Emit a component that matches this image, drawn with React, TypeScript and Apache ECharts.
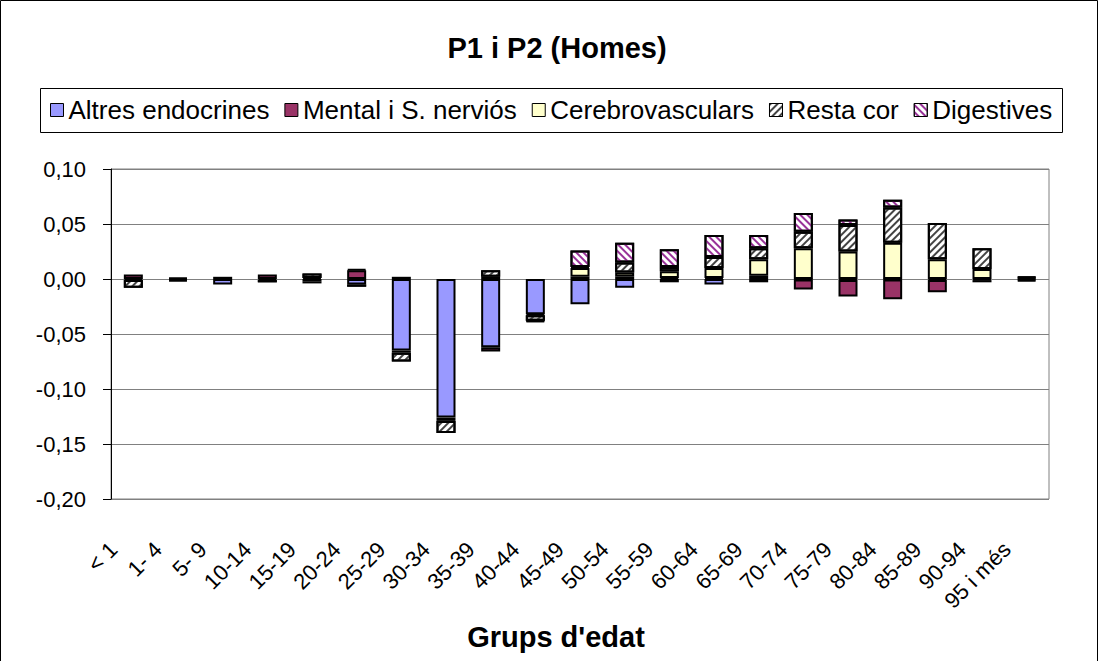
import React, { useEffect, useRef } from "react";
import * as echarts from "echarts";

const categories = ["< 1", "1- 4", "5- 9", "10-14", "15-19", "20-24", "25-29", "30-34", "35-39", "40-44", "45-49", "50-54", "55-59", "60-64", "65-69", "70-74", "75-79", "80-84", "85-89", "90-94", "95 i més"];

const altresEndocrines = [-0.001, -0.001, -0.005, -0.001, -0.002, -0.005, -0.065, -0.126, -0.062, -0.032, -0.023, -0.008, -0.003, -0.005, -0.003, -0.0005, -0.001, -0.0005, -0.001, -0.001, -0.001];
const mentalNervios = [0.004, -0.001, 0.002, 0.004, -0.002, 0.008, -0.002, -0.003, -0.004, -0.001, 0.002, 0.002, 0.001, 0.001, 0.003, -0.009, -0.015, -0.018, -0.011, -0.002, -0.001];
const cerebrovasculars = [0, 0, 0, 0, 0.001, 0.001, 0.002, 0, 0.002, 0, 0.008, 0.004, 0.006, 0.009, 0.015, 0.028, 0.025, 0.033, 0.018, 0.009, 0.001];
const restaCor = [-0.007, 0.001, 0, -0.002, 0.004, -0.002, -0.008, -0.011, 0.006, -0.005, 0.001, 0.009, 0.004, 0.010, 0.010, 0.015, 0.024, 0.032, 0.033, 0.019, 0.001];
const digestives = [0, 0, 0, 0, 0, 0, 0, 0, 0, -0.001, 0.015, 0.018, 0.016, 0.020, 0.012, 0.017, 0.005, 0.007, 0, 0, 0];

const yTicks = { min: -0.2, max: 0.1, interval: 0.05 };

const FONT = "'Liberation Sans', Arial, sans-serif";

export default function App() {
  const ref = useRef<HTMLDivElement>(null);
  useEffect(() => {
    if (!ref.current) return;
    const chart = echarts.init(ref.current, null, { renderer: "svg" });
    const clean = (arr: number[]) => arr.map((v) => (v === 0 ? null : v));
    const base = {
      type: "bar",
      stack: "total",
      barWidth: 19,
    };
    const border = { borderColor: "#000", borderWidth: 2 };
    chart.setOption({
      animation: false,
      backgroundColor: "#fff",
      textStyle: { fontFamily: FONT, color: "#000" },
      title: {
        text: "P1 i P2 (Homes)",
        left: 557,
        textAlign: "center",
        top: 33,
        padding: 0,
        textStyle: { fontFamily: FONT, fontSize: 29, fontWeight: "bold", color: "#000" },
      },
      legend: {
        left: 50,
        top: 97,
        padding: 0,
        itemGap: 15,
        itemWidth: 13,
        itemHeight: 13,
        icon: "rect",
        itemStyle: { borderColor: "#000", borderWidth: 1 },
        textStyle: { fontFamily: FONT, fontSize: 26, color: "#000", lineHeight: 26 },
      },
      grid: {
        left: 111,
        right: 50,
        top: 169,
        bottom: 162,
        show: true,
        borderColor: "#808080",
        borderWidth: 1,
        backgroundColor: "transparent",
      },
      xAxis: {
        type: "category",
        data: categories,
        axisLine: { show: false, onZero: false },
        axisTick: { show: false },
        axisLabel: {
          rotate: 45,
          margin: 27,
          padding: [0, 28, 0, 0],
          interval: 0,
          fontFamily: FONT,
          fontSize: 22,
          color: "#000",
        },
      },
      yAxis: {
        type: "value",
        min: yTicks.min,
        max: yTicks.max,
        interval: yTicks.interval,
        axisLine: { show: true, lineStyle: { color: "#000", width: 1 } },
        axisTick: { show: true, inside: false, length: 8, lineStyle: { color: "#000" } },
        splitLine: { show: true, lineStyle: { color: "#808080", width: 1 } },
        axisLabel: {
          margin: 25,
          fontFamily: FONT,
          fontSize: 22,
          color: "#000",
          formatter: (v: number) => v.toFixed(2).replace(".", ",").replace("-0,00", "0,00"),
        },
      },
      graphic: [
        {
          type: "rect",
          shape: { x: 0.5, y: 0.5, width: 1097, height: 700 },
          style: { fill: "none", stroke: "#000", lineWidth: 1 },
          silent: true,
        },
        {
          type: "rect",
          shape: { x: 40.5, y: 88.5, width: 1022, height: 44 },
          style: { fill: "none", stroke: "#000", lineWidth: 1 },
          silent: true,
        },
        {
          type: "text",
          x: 556,
          y: 637,
          style: {
            text: "Grups d'edat",
            font: `bold 29px ${FONT}`,
            fill: "#000",
            textAlign: "center",
            textVerticalAlign: "middle",
          },
          silent: true,
        },
      ],
      series: [
        {
          ...base,
          name: "Altres endocrines",
          data: clean(altresEndocrines),
          itemStyle: { color: "#9999FF", ...border },
        },
        {
          ...base,
          name: "Mental i S. nerviós",
          data: clean(mentalNervios),
          itemStyle: { color: "#993366", ...border },
        },
        {
          ...base,
          name: "Cerebrovasculars",
          data: clean(cerebrovasculars),
          itemStyle: { color: "#FFFFCC", ...border },
        },
        {
          ...base,
          name: "Resta cor",
          data: clean(restaCor),
          itemStyle: {
            color: "#FFFFFF",
            ...border,
            decal: {
              symbol: "rect",
              symbolSize: 1,
              dashArrayX: [1, 0],
              dashArrayY: [1.5, 2.5],
              rotation: -Math.PI / 4,
              color: "#444444",
            },
          },
        },
        {
          ...base,
          name: "Digestives",
          data: clean(digestives),
          itemStyle: {
            color: "#FFFFFF",
            ...border,
            decal: {
              symbol: "rect",
              symbolSize: 1,
              dashArrayX: [1, 0],
              dashArrayY: [2, 2.5],
              rotation: Math.PI / 4,
              color: "#993399",
            },
          },
        },
      ],
    });
    return () => chart.dispose();
  }, []);
  return (
    <div
      ref={ref}
      style={{ position: "fixed", left: 0, top: 0, width: 1099, height: 661 }}
    />
  );
}
